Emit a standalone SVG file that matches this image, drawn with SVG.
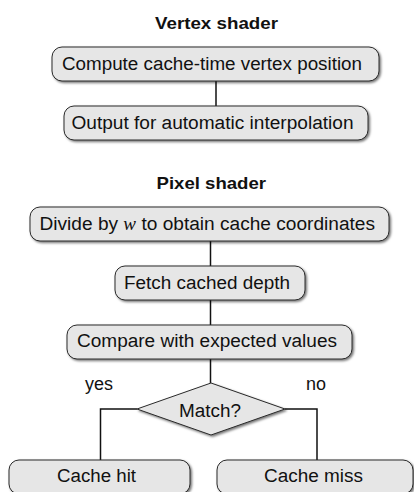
<svg xmlns="http://www.w3.org/2000/svg" width="414" height="492" viewBox="0 0 414 492">
<defs>
<filter id="sh" x="-10%" y="-20%" width="120%" height="150%">
<feDropShadow dx="1.5" dy="1.5" stdDeviation="0.8" flood-color="#000" flood-opacity="0.55"/>
</filter>
</defs>
<style>
.box{fill:#e6e6e6;stroke:#2a2a2a;stroke-width:1;filter:url(#sh)}
.t{font-family:"Liberation Sans",Arial,Helvetica,sans-serif;font-size:18px;fill:#111}
.h{font-family:"Liberation Sans",Arial,Helvetica,sans-serif;font-size:17px;font-weight:bold;fill:#111}
.w{font-family:"Liberation Serif","Times New Roman",serif;font-style:italic}
.c{fill:none;stroke:#111;stroke-width:1.5}
</style>
<rect width="414" height="492" fill="#fff"/>
<g id="connectors">
<line class="c" x1="216" y1="81" x2="216" y2="106"/>
<line class="c" x1="210.5" y1="241" x2="210.5" y2="266"/>
<line class="c" x1="210.5" y1="300" x2="210.5" y2="325"/>
<line class="c" x1="210.5" y1="359" x2="210.5" y2="383"/>
<polyline class="c" points="137,409 100.5,409 100.5,460"/>
<polyline class="c" points="285,409 317,409 317,460"/>
</g>
<g id="title-vertex"><text class="h" x="155" y="28.5" textLength="123" lengthAdjust="spacingAndGlyphs">Vertex shader</text></g>
<g id="title-pixel"><text class="h" x="156.5" y="188.5" textLength="109.5" lengthAdjust="spacingAndGlyphs">Pixel shader</text></g>
<g id="n1"><rect class="box" x="52" y="47" width="327" height="34" rx="10"/><text class="t" x="62" y="69.5" textLength="300" lengthAdjust="spacingAndGlyphs">Compute cache-time vertex position</text></g>
<g id="n2"><rect class="box" x="64" y="106" width="304" height="34" rx="10"/><text class="t" x="71.5" y="128.5" textLength="282" lengthAdjust="spacingAndGlyphs">Output for automatic interpolation</text></g>
<g id="n3"><rect class="box" x="30" y="207" width="359" height="34" rx="10"/><text class="t" x="39.5" y="229.5" textLength="335.5" lengthAdjust="spacingAndGlyphs">Divide by <tspan class="w">w</tspan> to obtain cache coordinates</text></g>
<g id="n4"><rect class="box" x="115" y="266" width="190" height="34" rx="10"/><text class="t" x="124" y="288.5" textLength="166" lengthAdjust="spacingAndGlyphs">Fetch cached depth</text></g>
<g id="n5"><rect class="box" x="67" y="325" width="285" height="34" rx="10"/><text class="t" x="77" y="347" textLength="260" lengthAdjust="spacingAndGlyphs">Compare with expected values</text></g>
<g id="n6"><polygon class="box" points="211,383 285,409 211,435 137,409"/><text class="t" x="179" y="416.5" textLength="62" lengthAdjust="spacingAndGlyphs">Match?</text></g>
<g id="lbl-yes"><text class="t" x="85" y="390" textLength="28" lengthAdjust="spacingAndGlyphs">yes</text></g>
<g id="lbl-no"><text class="t" x="306" y="390" textLength="20" lengthAdjust="spacingAndGlyphs">no</text></g>
<g id="n7"><rect class="box" x="9" y="460" width="181" height="34" rx="10"/><text class="t" x="57" y="482" textLength="79" lengthAdjust="spacingAndGlyphs">Cache hit</text></g>
<g id="n8"><rect class="box" x="217" y="460" width="196" height="34" rx="10"/><text class="t" x="264" y="482" textLength="99" lengthAdjust="spacingAndGlyphs">Cache miss</text></g>
</svg>
